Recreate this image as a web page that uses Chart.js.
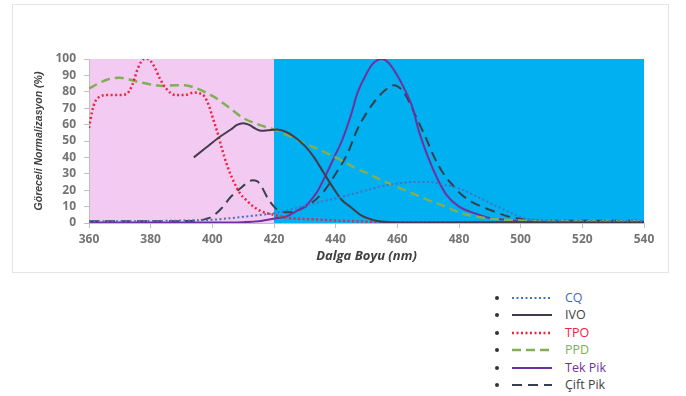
<!DOCTYPE html>
<html>
<head>
<meta charset="utf-8">
<script src="https://cdn.jsdelivr.net/npm/chart.js@4/dist/chart.umd.min.js"></script>
<style>
  html, body { margin: 0; padding: 0; background: #ffffff; width: 686px; height: 396px; overflow: hidden; }
  #frame { position: absolute; left: 12px; top: 4px; width: 655px; height: 267px; border: 1px solid #e4e4e4; }
  #frame canvas { display: block; }
  #legend { position: absolute; left: 492px; top: 289px; font-family: "Open Sans", sans-serif; font-size: 12.5px; }
  .row { position: relative; height: 17.4px; }
  .dot { position: absolute; left: 3px; top: 7px; width: 4px; height: 4px; border-radius: 50%; background: #333; }
  .row svg { position: absolute; left: 19px; top: 4px; }
  .lbl { position: absolute; left: 73px; top: 0px; line-height: 17px; white-space: nowrap; }
</style>
</head>
<body>
<div id="frame"><canvas id="c" width="655" height="267"></canvas></div>
<div id="legend"></div>
<script>
// ---- data (wavelength in nm, relative normalisation in %) ----
const xTicks = [360, 380, 400, 420, 440, 460, 480, 500, 520, 540];
const yTicks = [0, 10, 20, 30, 40, 50, 60, 70, 80, 90, 100];

const cqX = [360, 380, 395, 400, 405, 410, 415, 420, 425, 430, 435, 440, 445, 450, 455, 460, 465, 470, 475, 480, 487, 493, 497, 500, 505, 510, 520, 540];
const cqY = [1, 1.2, 1.7, 2, 2.8, 3.8, 4.8, 6, 8, 10.5, 12.8, 15, 17.5, 20, 22.5, 24, 25, 25, 23.5, 21, 15, 9.5, 6, 3.5, 2, 1.5, 1.3, 1.2];

const ivoX = [394, 398, 402, 406, 408, 410, 412, 414, 416, 418, 421, 424, 427, 430, 433, 436, 439, 442, 445, 448, 451, 454, 458, 470, 500, 540];
const ivoY = [40, 46, 52, 57, 59.8, 60.8, 59.8, 57.5, 56.2, 56.5, 57, 55.5, 52, 47, 40, 31, 22, 14, 9.5, 5, 2.5, 1, 0.5, 0.3, 0.5, 0.5];

const tpoX = [360, 361, 362, 363.5, 366, 369, 372, 374, 376, 378, 379, 381, 383, 385, 388, 391, 394, 396, 397.5, 399, 400, 402, 403, 405, 407, 409, 411, 413, 416, 420, 425, 430, 440, 450, 460, 480, 500, 540];
const tpoY = [58, 68, 74, 77, 78, 78, 78.5, 84, 95, 100, 100, 96, 88, 82, 78, 78, 79.5, 79, 77, 71, 65, 53, 46, 34, 25, 18, 14, 10.5, 7, 5, 3, 2.5, 1.5, 0.8, 0.5, 0.5, 0.5, 0.5];

const ppdX = [360, 363, 366, 370, 373, 376, 380, 384, 388, 391, 395, 400, 405, 410, 415, 420, 425, 430, 435, 440, 445, 450, 455, 460, 465, 470, 475, 480, 485, 490, 495, 500, 510, 540];
const ppdY = [82, 85, 87.5, 88.5, 87.5, 86, 84.5, 83.5, 84, 84, 82, 77.5, 71, 64, 60, 57, 53, 48.5, 44.5, 40, 35, 30.5, 26, 22, 18, 14, 10.5, 6.5, 4, 2.8, 2, 1.5, 1.2, 1.2];

const tekX = [360, 380, 400, 410, 415, 418, 421, 424, 427, 430, 432, 434, 437, 440, 442, 445, 447, 450, 452, 455, 457, 460, 462, 465, 467, 470, 473, 476, 480, 485, 490, 495, 500, 510, 540];
const tekY = [0.3, 0.3, 0.3, 0.5, 1, 2, 3, 4, 7, 10, 14, 19, 30, 42, 50, 66, 79, 91, 97, 100, 98, 90, 83, 70, 56, 40, 27, 17, 10, 6, 3, 2, 1, 0.5, 0.5];

const ciftX = [360, 380, 395, 398, 400, 403, 406, 409, 411, 413, 414.5, 416, 418, 420, 422, 425, 428, 432, 436, 440, 444, 447, 450, 453, 456, 459, 461, 463, 466, 469, 472, 475, 478, 481, 485, 490, 496, 500, 505, 510, 540];
const ciftY = [1, 1, 1.5, 2.5, 4, 9, 16, 21, 24, 26, 25.5, 22, 15, 10, 7, 6.5, 8, 12, 19, 30, 43, 57, 67, 75, 81, 84, 82, 77, 65, 53, 40, 30, 23, 17, 12, 8, 4, 2.5, 1.5, 1.3, 1.3];

const seriesNames = ["CQ", "IVO", "TPO", "PPD", "Tek Pik", "Çift Pik"];
const axisXTitle = "Dalga Boyu (nm)";
const axisYTitle = "Göreceli Normalizasyon (%)";
const bandSplit = 420;

// ---- styles ----
const styles = [
  { color: "#4472C4", width: 2, dash: [2, 2.5], text: "#3F6DBF" },
  { color: "#443A4C", width: 2, dash: [], text: "#404040" },
  { color: "#F0233C", width: 2.5, dash: [2, 2.5], text: "#F0233C" },
  { color: "#80B055", width: 2.5, dash: [9, 5], text: "#7DB04F" },
  { color: "#7030A0", width: 2, dash: [], text: "#7030A0" },
  { color: "#38404E", width: 2, dash: [10, 6], text: "#404040" }
];

function pts(xs, ys) { return xs.map((x, i) => ({ x: x, y: ys[i] })); }
const allData = [pts(cqX, cqY), pts(ivoX, ivoY), pts(tpoX, tpoY), pts(ppdX, ppdY), pts(tekX, tekY), pts(ciftX, ciftY)];

const datasets = seriesNames.map((n, i) => ({
  label: n,
  data: allData[i],
  borderColor: styles[i].color,
  borderWidth: styles[i].width,
  borderDash: styles[i].dash,
  borderCapStyle: "butt",
  pointRadius: 0,
  fill: false,
  cubicInterpolationMode: "monotone"
}));

const bandPlugin = {
  id: "bands",
  beforeDraw(chart) {
    const { ctx, chartArea, scales } = chart;
    const xs = scales.x.getPixelForValue(bandSplit);
    ctx.save();
    ctx.fillStyle = "#F3CBF2";
    ctx.fillRect(chartArea.left, chartArea.top, xs - chartArea.left, chartArea.bottom - chartArea.top);
    ctx.fillStyle = "#00B0F0";
    ctx.fillRect(xs, chartArea.top, chartArea.right - xs, chartArea.bottom - chartArea.top);
    ctx.restore();
  }
};

const tickFont = { family: "'Open Sans', sans-serif", size: 12, weight: "bold" };

new Chart(document.getElementById("c"), {
  type: "line",
  data: { datasets: datasets },
  plugins: [bandPlugin],
  options: {
    responsive: false,
    animation: false,
    layout: { padding: { left: 0, right: 24, top: 54, bottom: 0 } },
    plugins: { legend: { display: false }, tooltip: { enabled: false } },
    scales: {
      x: {
        type: "linear",
        min: 360, max: 540,
        afterBuildTicks(s) { s.ticks = xTicks.map(v => ({ value: v })); },
        afterFit(s) { s.height = 49; },
        grid: { drawOnChartArea: false, drawTicks: true, tickLength: 5, color: "#bfbfbf" },
        border: { color: "#bfbfbf" },
        ticks: { color: "#747474", font: tickFont, padding: 4, maxRotation: 0, autoSkip: false },
        title: { display: true, text: axisXTitle, color: "#404040",
                 font: { family: "'Open Sans', sans-serif", size: 13, weight: "bold", style: "italic" },
                 padding: { top: 0, bottom: 8 } }
      },
      y: {
        min: 0, max: 100,
        afterBuildTicks(s) { s.ticks = yTicks.map(v => ({ value: v })); },
        afterFit(s) { s.width = 76; },
        grid: { drawOnChartArea: false, drawTicks: true, tickLength: 5, color: "#bfbfbf" },
        border: { color: "#bfbfbf" },
        ticks: { color: "#747474", font: tickFont, padding: 8, autoSkip: false },
        title: { display: true, text: axisYTitle, color: "#404040",
                 font: { family: "'Liberation Sans', sans-serif", size: 10.5, weight: "bold", style: "italic" },
                 padding: { top: 20, bottom: 0 } }
      }
    }
  }
});

// ---- legend (HTML) ----
const leg = document.getElementById("legend");
seriesNames.forEach((n, i) => {
  const st = styles[i];
  const row = document.createElement("div");
  row.className = "row";
  const dash = st.dash.length ? st.dash.join(",") : "none";
  row.innerHTML = '<span class="dot"></span>' +
    '<svg width="42" height="10"><line x1="1" y1="5" x2="41" y2="5" stroke="' + st.color +
    '" stroke-width="' + st.width + '" stroke-dasharray="' + dash + '"/></svg>' +
    '<span class="lbl" style="color:' + st.text + '">' + n + '</span>';
  leg.appendChild(row);
});
</script>
</body>
</html>
